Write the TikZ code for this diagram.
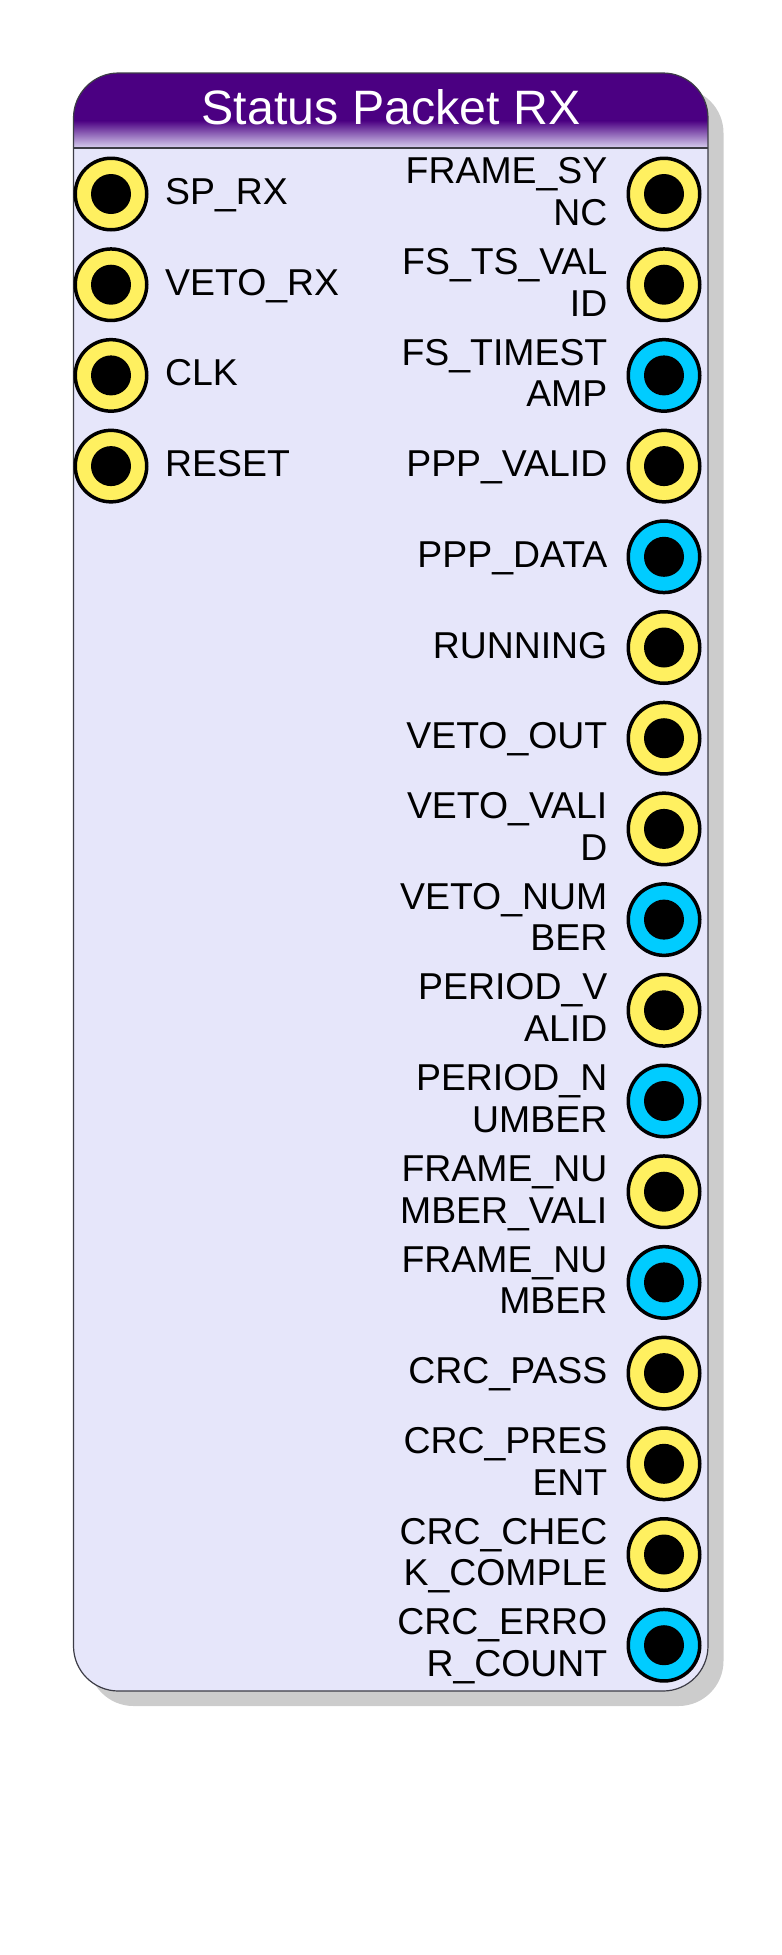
\documentclass[tikz,border=0pt]{standalone}
\usepackage{fontspec}
\setmainfont{Liberation Sans}
\definecolor{titlepurple}{RGB}{75,0,130}
\definecolor{titlelight}{RGB}{216,208,240}
\definecolor{bodyfill}{RGB}{230,230,250}
\definecolor{shadowgray}{RGB}{204,204,204}
\definecolor{bordergray}{RGB}{60,60,70}
\definecolor{portyellow}{RGB}{255,240,96}
\definecolor{portcyan}{RGB}{0,204,255}
\newcommand\pst{\rule[-9pt]{0pt}{39pt}}
\begin{document}
\begin{tikzpicture}[x=1pt,y=-1pt,
  port/.style={circle, inner sep=0pt, minimum size=71.5pt, draw=black, line width=3.5pt, fill=#1,
    path picture={\fill[black] (path picture bounding box.center) circle (20pt);}},
  lbl/.style={inner sep=0pt, font=\fontsize{37.4}{41.7}\selectfont, text=black},
  rlbl/.style={lbl, anchor=east, align=right},
  llbl/.style={lbl, anchor=west, align=left},
  ttl/.style={inner sep=0pt, anchor=base, text=white, font=\fontsize{48.3}{52}\selectfont}]
\useasboundingbox (0,0) rectangle (782,1955);
% shadow and body
\fill[shadowgray, rounded corners=45pt] (88.5,88) rectangle (723.5,1706);
\fill[bodyfill, rounded corners=45pt] (73.5,73) rectangle (708,1691);
\begin{scope}
  \clip[rounded corners=45pt] (73.5,73) rectangle (708,1691);
  \fill[titlepurple] (73.5,73) rectangle (708,121);
  \shade[top color=titlepurple, bottom color=titlelight] (73.5,120.5) rectangle (708,148);
\end{scope}
\draw[bordergray, line width=1.2pt] (73.5,148) -- (708,148);
\draw[bordergray, line width=1.2pt, rounded corners=45pt] (73.5,73) rectangle (708,1691);
\node[ttl] (title) at (391,124) {Status Packet RX};
% left ports
\foreach \i/\lab in {1/{SP\_RX}, 2/{VETO\_RX}, 3/{CLK}, 4/{RESET}}{
  \pgfmathsetmacro\yy{194+(\i-1)*90.7}
  \node[port=portyellow] (lp\i) at (111,\yy) {};
  \node[llbl] (ll\i) at (165,\yy) {\pst\lab};
}
% right ports
\foreach \i/\la/\lb/\col in {
  1/{FRAME\_SY}/{NC}/portyellow,
  2/{FS\_TS\_VAL}/{ID}/portyellow,
  3/{FS\_TIMEST}/{AMP}/portcyan,
  4/{PPP\_VALID}/{}/portyellow,
  5/{PPP\_DATA}/{}/portcyan,
  6/{RUNNING}/{}/portyellow,
  7/{VETO\_OUT}/{}/portyellow,
  8/{VETO\_VALI}/{D}/portyellow,
  9/{VETO\_NUM}/{BER}/portcyan,
  10/{PERIOD\_V}/{ALID}/portyellow,
  11/{PERIOD\_N}/{UMBER}/portcyan,
  12/{FRAME\_NU}/{MBER\_VALI}/portyellow,
  13/{FRAME\_NU}/{MBER}/portcyan,
  14/{CRC\_PASS}/{}/portyellow,
  15/{CRC\_PRES}/{ENT}/portyellow,
  16/{CRC\_CHEC}/{K\_COMPLE}/portyellow,
  17/{CRC\_ERRO}/{R\_COUNT}/portcyan}{
  \pgfmathsetmacro\yy{194+(\i-1)*90.7}
  \node[port=\col] (rp\i) at (664,\yy) {};
  \ifx\lb\empty
    \node[rlbl] (rl\i) at (607.5,\yy) {\pst\la};
  \else
    \node[rlbl] (rl\i) at (607.5,\yy) {\pst\la\\\pst\lb};
  \fi
}
\end{tikzpicture}
\end{document}
